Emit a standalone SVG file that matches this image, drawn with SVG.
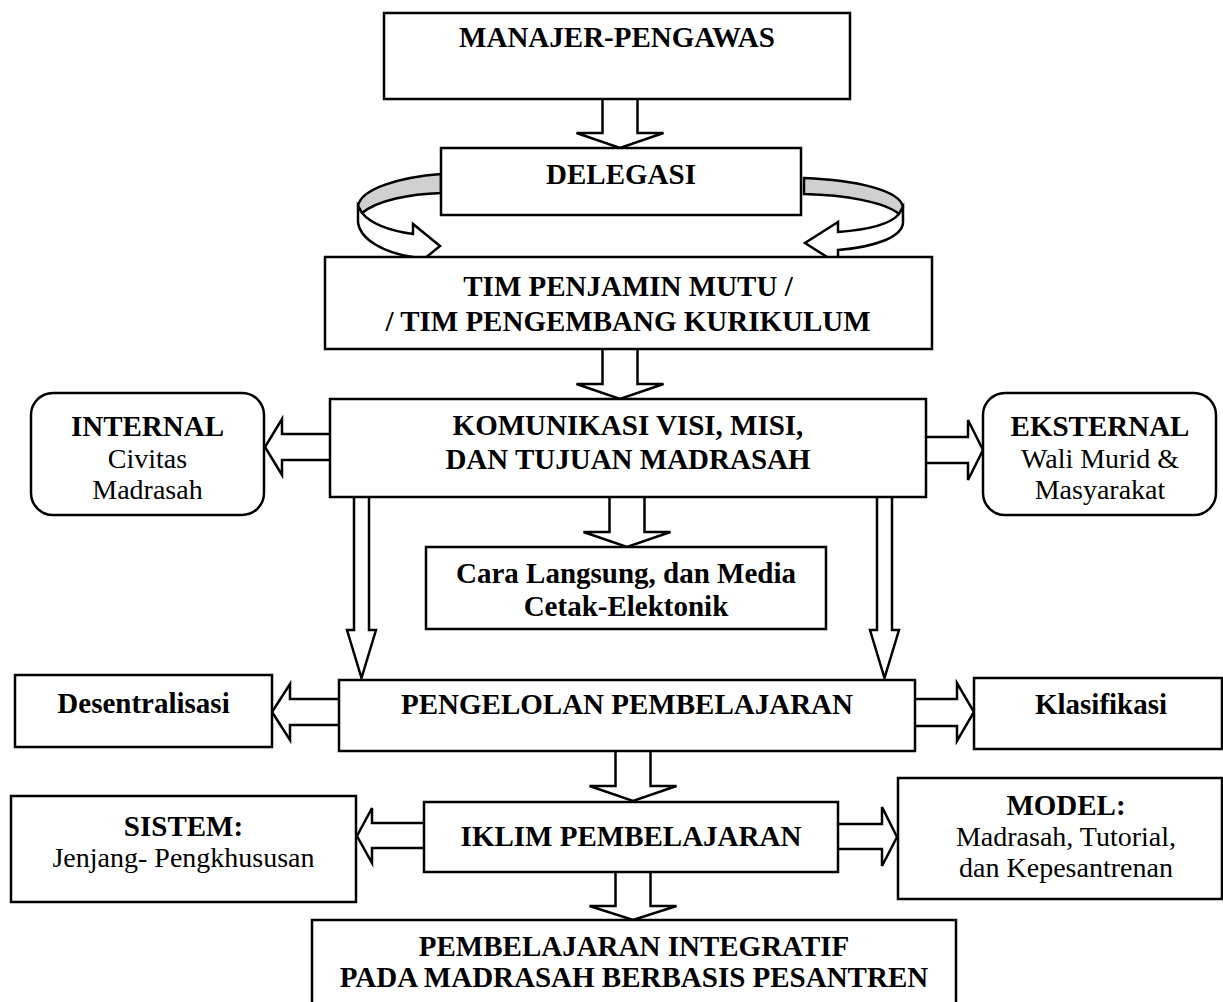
<svg xmlns="http://www.w3.org/2000/svg" width="1223" height="1002" viewBox="0 0 1223 1002">
<style>
.box{fill:#fff;stroke:#000;stroke-width:2.5}
.arr{fill:#fff;stroke:#000;stroke-width:2.5;stroke-linejoin:miter}
.gray{fill:#d0d0d0;stroke:#000;stroke-width:2.5}
.b{font-family:"Liberation Serif",serif;font-weight:bold;font-size:29px;text-anchor:middle;fill:#000}
.r{font-family:"Liberation Serif",serif;font-size:28px;text-anchor:middle;fill:#000}
</style>
<rect width="1223" height="1002" fill="#fff"/>
<g id="connectors">
<path class="arr" d="M602.5,99 V133 H576.5 L620,148 L663.5,133 H637.5 V99"/>
<path class="arr" d="M602.5,349 V384 H576.5 L620,399 L663.5,384 H637.5 V349"/>
<path class="arr" d="M609.5,497 V532 H583.5 L627,547 L670.5,532 H644.5 V497"/>
<path class="arr" d="M615.5,751 V786 H589.5 L633,801 L676.5,786 H650.5 V751"/>
<path class="arr" d="M615.5,872 V906 H589.5 L633,920 L676.5,906 H650.5 V872"/>
<path class="arr" d="M354,497 V630 H347 L361.5,678 L376,630 H369 V497"/>
<path class="arr" d="M877,497 V630 H870 L884.5,678 L899,630 H892 V497"/>
<path class="arr" d="M330,434 H282 V419 L265,447 L282,475 V460 H330"/>
<path class="arr" d="M926,437 H968 V420 L983,450 L968,480 V463 H926"/>
<path class="arr" d="M339,699 H290 V684 L272,712 L290,740 V725 H339"/>
<path class="arr" d="M915,699 H957 V683 L974,712 L957,741 V726 H915"/>
<path class="arr" d="M424,823 H372 V808 L357,836 L372,863 V848 H424"/>
<path class="arr" d="M838,824 H882 V807 L897,837 L882,866 V849 H838"/>
<path class="gray" d="M441,174 C402,177 361,188 358,206 L362,213 C378,200 410,194 441,193 Z"/>
<path class="arr" d="M362,213 C372,225 392,231 413,234 L413,224 L440,246 L413,268 L413,257 C385,253 360,240 358,222 L358,206 Z"/>
<path class="gray" d="M804,178 C855,180 900,190 903,207 L899,214 C885,202 845,195 804,194 Z"/>
<path class="arr" d="M899,214 C890,225 865,230 838,232 L838,222 L805,243 L838,264 L838,250 C875,247 903,237 903,222 L903,207 Z"/>
</g>
<g id="manajer">
<rect class="box" x="384" y="13" width="466" height="86"/>
<text class="b" x="617" y="47">MANAJER-PENGAWAS</text>
</g>
<g id="delegasi">
<rect class="box" x="441" y="148" width="360" height="67"/>
<text class="b" x="621" y="184">DELEGASI</text>
</g>
<g id="tim">
<rect class="box" x="325" y="257" width="607" height="92"/>
<text class="b" x="628" y="296">TIM PENJAMIN MUTU /</text>
<text class="b" x="628" y="331">/ TIM PENGEMBANG KURIKULUM</text>
</g>
<g id="komunikasi">
<rect class="box" x="330" y="399" width="596" height="98"/>
<text class="b" x="628" y="435">KOMUNIKASI VISI, MISI,</text>
<text class="b" x="628" y="469">DAN TUJUAN MADRASAH</text>
</g>
<g id="internal">
<rect class="box" x="31" y="393" width="233" height="122" rx="22"/>
<text class="b" x="147.5" y="436">INTERNAL</text>
<text class="r" x="147.5" y="468">Civitas</text>
<text class="r" x="147.5" y="499">Madrasah</text>
</g>
<g id="eksternal">
<rect class="box" x="983" y="393" width="233" height="122" rx="22"/>
<text class="b" x="1100" y="436">EKSTERNAL</text>
<text class="r" x="1100" y="468">Wali Murid &amp;</text>
<text class="r" x="1100" y="499">Masyarakat</text>
</g>
<g id="cara">
<rect class="box" x="426" y="547" width="400" height="82"/>
<text class="b" x="626" y="583">Cara Langsung, dan Media</text>
<text class="b" x="626" y="616">Cetak-Elektonik</text>
</g>
<g id="pengelolan">
<rect class="box" x="339" y="680" width="576" height="71"/>
<text class="b" x="627" y="714">PENGELOLAN PEMBELAJARAN</text>
</g>
<g id="desentralisasi">
<rect class="box" x="15" y="675" width="257" height="72"/>
<text class="b" x="143.5" y="713">Desentralisasi</text>
</g>
<g id="klasifikasi">
<rect class="box" x="974" y="678" width="248" height="71"/>
<text class="b" x="1101" y="714">Klasifikasi</text>
</g>
<g id="iklim">
<rect class="box" x="424" y="802" width="414" height="70"/>
<text class="b" x="631" y="846">IKLIM PEMBELAJARAN</text>
</g>
<g id="sistem">
<rect class="box" x="11" y="796" width="345" height="106"/>
<text class="b" x="183.5" y="836">SISTEM:</text>
<text class="r" x="183.5" y="867">Jenjang- Pengkhususan</text>
</g>
<g id="model">
<rect class="box" x="898" y="778" width="324" height="121"/>
<text class="b" x="1066" y="815">MODEL:</text>
<text class="r" x="1066" y="846">Madrasah, Tutorial,</text>
<text class="r" x="1066" y="877">dan Kepesantrenan</text>
</g>
<g id="pembelajaran-integratif">
<rect class="box" x="312" y="920" width="644" height="100"/>
<text class="b" x="634" y="956">PEMBELAJARAN INTEGRATIF</text>
<text class="b" x="634" y="987">PADA MADRASAH BERBASIS PESANTREN</text>
</g>
</svg>
